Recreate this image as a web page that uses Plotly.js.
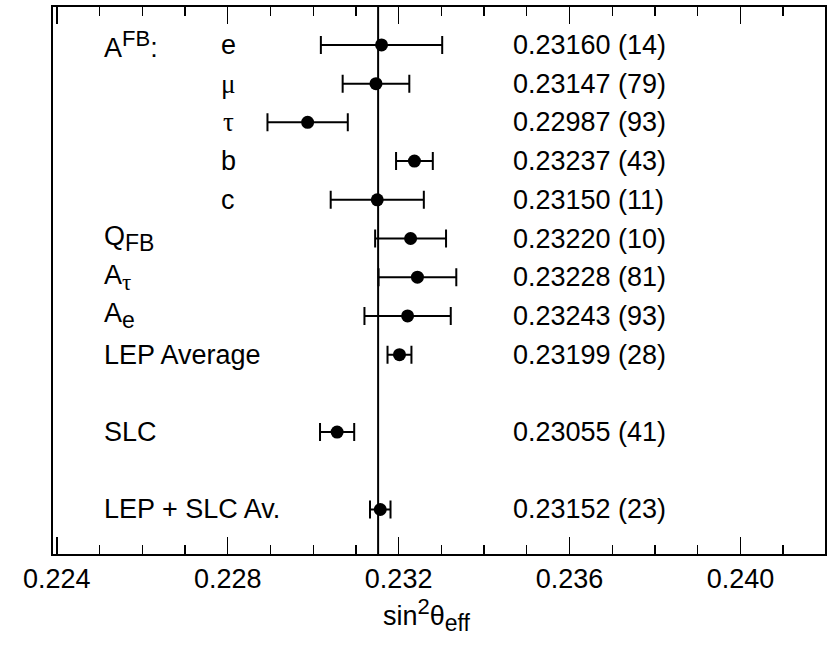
<!DOCTYPE html>
<html>
<head>
<meta charset="utf-8">
<script src="https://cdn.plot.ly/plotly-3.0.1.min.js"></script>
<style>html,body{margin:0;padding:0;background:#fff;}#chart{width:831px;height:645px;}</style>
</head>
<body>
<div id="chart"></div>
<script>
// ---- data ----
const rowIndex   = [0, 1, 2, 3, 4, 5, 6, 7, 8, 10, 12];
const groupLabel = [
  'A<sup><span style="font-size:22px">FB</span></sup>:', '', '', '', '',
  'Q<sub><span style="font-size:23px">FB</span></sub>',
  'A<sub><span style="font-family:Liberation Serif;font-size:23px">τ</span></sub>',
  'A<sub><span style="font-size:23px">e</span></sub>',
  'LEP Average', 'SLC', 'LEP + SLC Av.'];
const channelLabel = ['e', '<span style="font-family:Liberation Serif">μ</span>', '<span style="font-family:Liberation Serif">τ</span>', 'b', 'c', '', '', '', '', '', ''];
const centre     = [0.23160, 0.23147, 0.22987, 0.23237, 0.23150, 0.23228, 0.23244, 0.23221, 0.23202, 0.23056, 0.23157];
const errHalf    = [0.00142, 0.00078, 0.00094, 0.00043, 0.00109, 0.00083, 0.00091, 0.00101, 0.00028, 0.00040, 0.00024];
const valueText  = ['0.23160 (14)', '0.23147 (79)', '0.22987 (93)', '0.23237 (43)', '0.23150 (11)', '0.23220 (10)', '0.23228 (81)', '0.23243 (93)', '0.23199 (28)', '0.23055 (41)', '0.23152 (23)'];
const averageValue = 0.23152;
const xTickVals  = [0.224, 0.228, 0.232, 0.236, 0.240];
const xTickText  = ['0.224', '0.228', '0.232', '0.236', '0.240'];
const xTitle     = 'sin<sup><span style="font-size:22px">2</span></sup>θ<sub><span style="font-size:23px">eff</span></sub>';

const FONT = 'Liberation Sans, Arial, Helvetica, sans-serif';
const FS = 27;

const trace = {
  type: 'scatter',
  mode: 'markers',
  x: centre,
  y: rowIndex,
  marker: {color: '#000', size: 13},
  error_x: {type: 'data', array: errHalf, visible: true, color: '#000', thickness: 2, width: 9},
  hoverinfo: 'skip',
  showlegend: false
};

const annotations = [];
rowIndex.forEach((r, i) => {
  if (groupLabel[i]) annotations.push({xref: 'paper', yref: 'y', x: 0.064, y: r, text: groupLabel[i], showarrow: false, xanchor: 'left', yanchor: 'middle', font: {family: FONT, size: FS, color: '#000'}});
  if (channelLabel[i]) annotations.push({xref: 'paper', yref: 'y', x: 0.227, y: r, text: channelLabel[i], showarrow: false, xanchor: 'center', yanchor: 'middle', font: {family: FONT, size: FS, color: '#000'}});
  annotations.push({xref: 'paper', yref: 'y', x: 0.593, y: r, text: valueText[i], showarrow: false, xanchor: 'left', yanchor: 'middle', font: {family: FONT, size: FS, color: '#000'}});
});
annotations.push({xref: 'paper', yref: 'paper', x: 0.485, y: -0.112, text: xTitle, showarrow: false, xanchor: 'center', yanchor: 'middle', font: {family: FONT, size: FS, color: '#000'}});

const layout = {
  width: 831, height: 645,
  margin: {l: 53, r: 6, t: 7, b: 91},
  paper_bgcolor: '#fff', plot_bgcolor: '#fff',
  font: {family: FONT, size: FS, color: '#000'},
  showlegend: false,
  xaxis: {
    range: [0.22391, 0.24198],
    tickmode: 'array', tickvals: xTickVals, ticktext: xTickText,
    ticks: 'inside', ticklen: 17, tickwidth: 1.5, tickcolor: '#000',
    minor: {tickmode: 'linear', tick0: 0.224, dtick: 0.001, ticks: 'inside', ticklen: 9, tickwidth: 1.3, tickcolor: '#000'},
    showline: true, linecolor: '#000', linewidth: 1.8, mirror: 'ticks',
    showgrid: false, zeroline: false,
    tickfont: {family: FONT, size: FS, color: '#000'}
  },
  yaxis: {
    range: [13.15, -0.98],
    showline: true, linecolor: '#000', linewidth: 1.8, mirror: true,
    ticks: '', showticklabels: false, showgrid: false, zeroline: false
  },
  shapes: [{type: 'line', xref: 'x', yref: 'paper', x0: averageValue, x1: averageValue, y0: 0, y1: 1, line: {color: '#000', width: 2}}],
  annotations: annotations
};

Plotly.newPlot('chart', [trace], layout, {displayModeBar: false, staticPlot: true});
</script>
</body>
</html>
